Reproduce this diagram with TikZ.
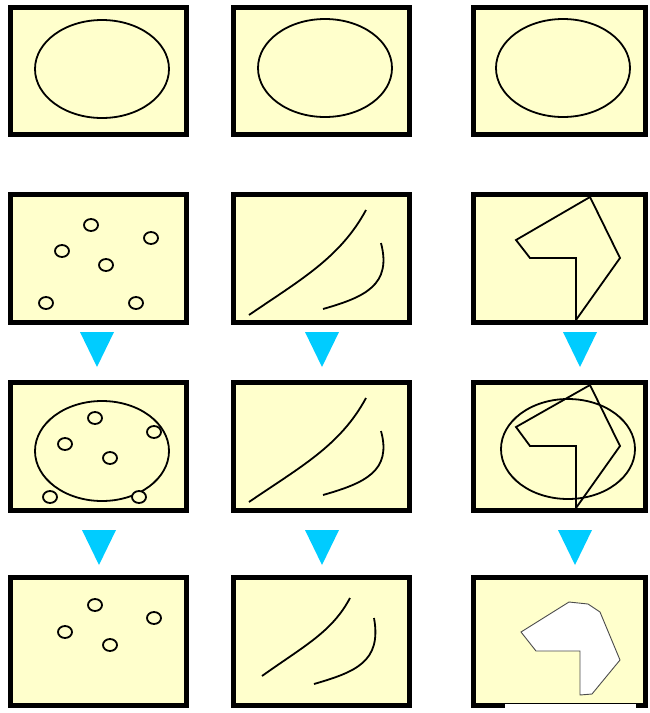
\documentclass[tikz,border=0pt]{standalone}
\begin{document}
\begin{tikzpicture}[x=1pt,y=-1pt,
  panel/.style={draw=black,line width=5.5pt,fill=paneyellow},
  outl/.style={draw=black,line width=1.8pt},
  tri/.style={fill=arrowcyan,draw=none},
  ]
\definecolor{paneyellow}{RGB}{255,255,204}
\definecolor{arrowcyan}{RGB}{0,204,255}
\useasboundingbox (0,0) rectangle (650,713);
\fill[white] (0,0) rectangle (650,713);
% panels
\foreach \ya/\yb in {5/137,192/325,380/513,575/708}{
  \draw[panel] (10.5,\ya+2.5) rectangle (186.5,\yb-2.5);
  \draw[panel] (233.5,\ya+2.5) rectangle (409.5,\yb-2.5);
  \draw[panel] (473.5,\ya+2.5) rectangle (645.5,\yb-2.5);
}
% gap in bottom border of last panel
\fill[white] (505,704) rectangle (636,713);
% row 1 ellipses
\draw[outl] (102,69) ellipse[x radius=67,y radius=49];
\draw[outl] (325,68) ellipse[x radius=67,y radius=49];
\draw[outl] (563,68) ellipse[x radius=67,y radius=49];
% row 2
\foreach \p in {(91,225),(151,238),(62,251),(106,265),(46,303),(136,303)}
  \draw[outl] \p ellipse[x radius=7,y radius=6];
\draw[outl] (249,315) .. controls (300,280) and (340,258) .. (366,210);
\draw[outl] (323,309) .. controls (365,297) and (392,285) .. (381,243);
\draw[outl,line join=miter] (516,240) -- (590,197) -- (620,258) -- (576,320) -- (576,258) -- (530,258) -- cycle;
% row 3
\draw[outl] (102,451) ellipse[x radius=67,y radius=50];
\foreach \p in {(95,418),(154,432),(65,444),(110,458),(50,497),(139,497)}
  \draw[outl,fill=paneyellow] \p ellipse[x radius=7,y radius=6];
\draw[outl] (249,502) .. controls (300,467) and (340,446) .. (366,398);
\draw[outl] (323,495) .. controls (365,483) and (392,471) .. (381,431);
\draw[outl] (568,449) ellipse[x radius=67,y radius=50];
\draw[outl,line join=miter] (516,427) -- (590,385) -- (620,446) -- (576,508) -- (576,446) -- (530,446) -- cycle;
% row 4
\foreach \p in {(95,605),(154,618),(65,632),(110,645)}
  \draw[outl] \p ellipse[x radius=7,y radius=6];
\draw[outl] (262,676) .. controls (304,646) and (332,632) .. (350,598);
\draw[outl] (314,684) .. controls (355,672) and (382,662) .. (374,618);
\draw[draw=black!70,line width=0.9pt,fill=white] (521,632) -- (569,602) -- (588,604) -- (600,612) -- (620,660) -- (592,694) -- (580,695) -- (580,651) -- (536,651) -- cycle;
% arrows
\foreach \x/\y in {97/332,322/332,580/332,99/530,322/530,575/530}
  \fill[tri] (\x-17,\y) -- (\x+17,\y) -- (\x,\y+35) -- cycle;
\end{tikzpicture}
\end{document}
